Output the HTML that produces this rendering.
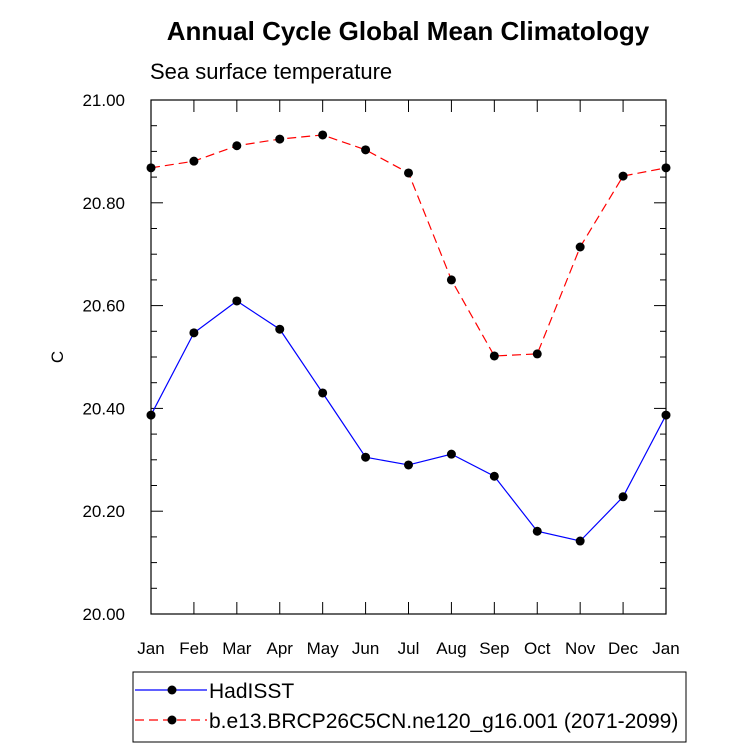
<!DOCTYPE html>
<html><head><meta charset="utf-8"><style>
body{margin:0;background:#fff;}
svg text{font-family:"Liberation Sans",sans-serif;fill:#000;}
</style></head><body>
<svg id="c" width="733" height="748" viewBox="0 0 733 748">
<text x="408" y="40" text-anchor="middle" font-size="26" font-weight="bold">Annual Cycle Global Mean Climatology</text>
<text x="150" y="79" font-size="22">Sea surface temperature</text>
<text transform="translate(63,357) rotate(-90)" text-anchor="middle" font-size="17">C</text>
<g id="axes"></g><g id="series"></g>
<g>
<rect x="133" y="672" width="553" height="70" fill="none" stroke="#000" stroke-width="1"/>
<g>
<line x1="135" y1="690" x2="207" y2="690" stroke="#00f" stroke-width="1.2"/>
<circle cx="172" cy="690" r="4.5" fill="#000"/>
<text x="209" y="698" font-size="21">HadISST</text></g>
<g>
<line x1="135" y1="720" x2="207" y2="720" stroke="#f00" stroke-width="1.2" stroke-dasharray="9,5"/>
<circle cx="172" cy="720" r="4.5" fill="#000"/>
<text x="209" y="728" font-size="21">b.e13.BRCP26C5CN.ne120_g16.001 (2071-2099)</text></g>
</g>
</svg>
<script>
const months=["Jan","Feb","Mar","Apr","May","Jun","Jul","Aug","Sep","Oct","Nov","Dec","Jan"];
const hadisst=[20.387,20.547,20.609,20.554,20.430,20.305,20.290,20.311,20.268,20.161,20.142,20.228,20.387];
const model=[20.868,20.881,20.911,20.924,20.932,20.903,20.858,20.650,20.502,20.506,20.714,20.852,20.868];
const yTicks=[20.0,20.2,20.4,20.6,20.8,21.0];
const yTickLabels=["20.00","20.20","20.40","20.60","20.80","21.00"];
const X0=151,X1=666,Y0=614,Y1=100,YMIN=20,YMAX=21;
const xs=i=>X0+(X1-X0)*i/(months.length-1);
const ys=v=>Y0-(v-YMIN)/(YMAX-YMIN)*(Y0-Y1);
const NS="http://www.w3.org/2000/svg";
function mk(t,a,p){const e=document.createElementNS(NS,t);for(const k in a)e.setAttribute(k,a[k]);p.appendChild(e);return e;}
const ax=document.getElementById('axes');
const frame=mk('rect',{x:X0,y:Y1,width:X1-X0,height:Y0-Y1,fill:'none',stroke:'#000','stroke-width':1.2},ax);


months.forEach((m,i)=>{const x=xs(i);
mk('line',{x1:x,y1:Y0,x2:x,y2:Y0-12,stroke:'#000'},ax);
mk('line',{x1:x,y1:Y1,x2:x,y2:Y1+12,stroke:'#000'},ax);
const t=mk('text',{x:x,y:Y0+40,'text-anchor':'middle','font-size':17},ax);t.textContent=m;

});
for(let v=YMIN;v<=YMAX+1e-9;v+=0.05){const y=ys(v);const maj=Math.abs(v*5-Math.round(v*5))<1e-6;const L=maj?12:6;
mk('line',{x1:X0,y1:y,x2:X0+L,y2:y,stroke:'#000'},ax);
mk('line',{x1:X1,y1:y,x2:X1-L,y2:y,stroke:'#000'},ax);}
yTicks.forEach((v,i)=>{const t=mk('text',{x:X0-26,y:ys(v)+6,'text-anchor':'end','font-size':17},ax);t.textContent=yTickLabels[i];

});
const sg=document.getElementById('series');
function draw(arr,color,dash,name){const g=mk('g',{},sg);


mk('polyline',{points:arr.map((v,i)=>xs(i)+','+ys(v)).join(' '),fill:'none',stroke:color,'stroke-width':1.2,'stroke-dasharray':dash},g);
arr.forEach((v,i)=>{const c=mk('circle',{cx:xs(i),cy:ys(v),r:4.5,fill:'#000'},g);

});}
draw(model,'#f00','9,5','model-series');
draw(hadisst,'#00f','none','hadisst-series');
</script>
</body></html>
